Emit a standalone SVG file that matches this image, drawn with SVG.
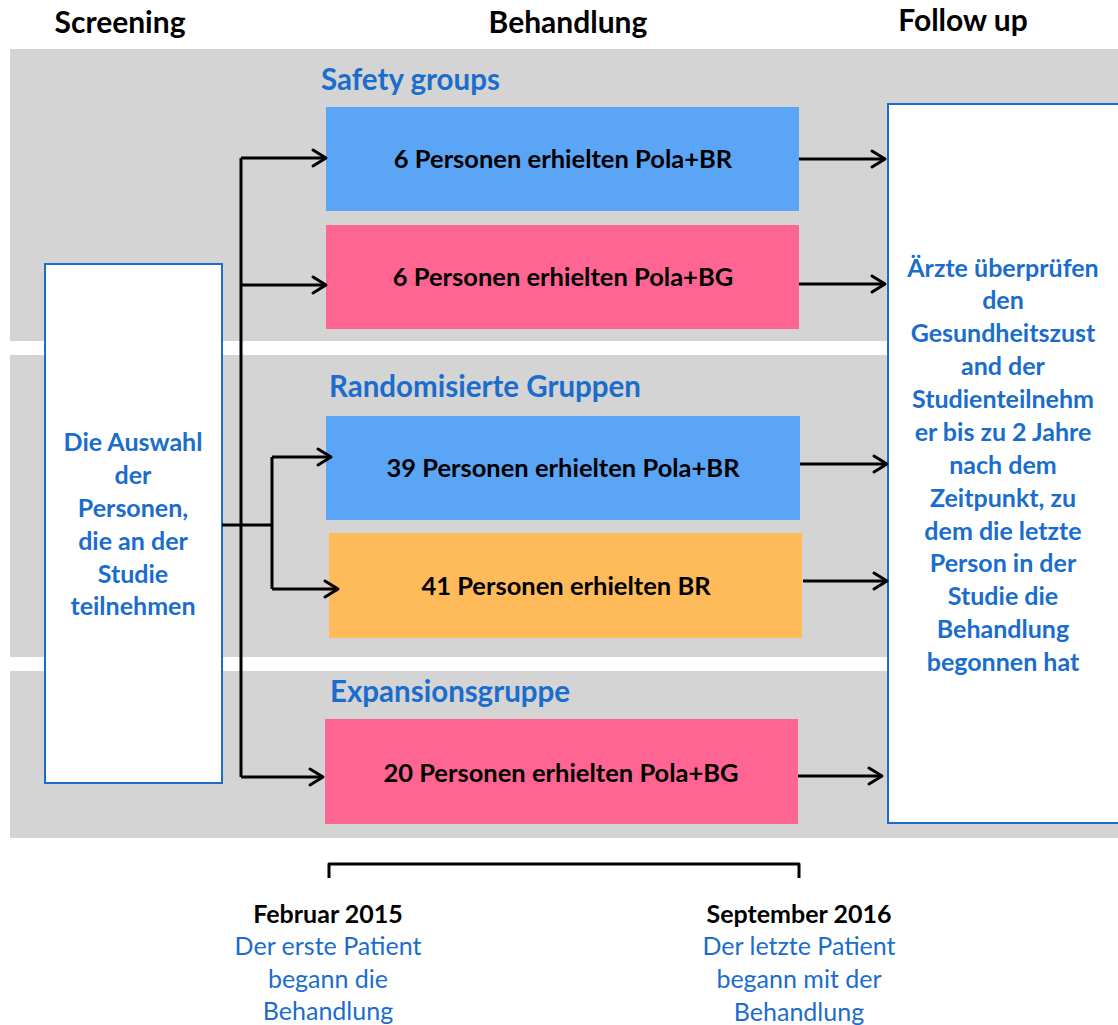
<svg xmlns="http://www.w3.org/2000/svg" width="1118" height="1025" viewBox="0 0 1118 1025">
<defs>
<marker id="arr" markerUnits="userSpaceOnUse" markerWidth="22" markerHeight="22" viewBox="0 0 22 22" refX="17" refY="11" orient="auto">
<path d="M4,3 L17,11 L4,19" fill="none" stroke="#000" stroke-width="3" stroke-linecap="round" stroke-linejoin="round"/>
</marker>
</defs>
<style>
.band{fill:#d4d4d4}
.hdr{font-family:Lato,"Liberation Sans",sans-serif;font-weight:bold;font-size:30px;fill:#000;text-anchor:middle}
.sec{font-family:Lato,"Liberation Sans",sans-serif;font-weight:bold;font-size:29.5px;fill:#1a6dcc}
.box{font-family:Lato,"Liberation Sans",sans-serif;font-weight:bold;font-size:25.5px;fill:#000;text-anchor:middle}
.side{font-family:Lato,"Liberation Sans",sans-serif;font-weight:bold;font-size:25px;fill:#1a6dcc;text-anchor:middle}
.wbox{fill:#fff;stroke:#1a6dcc;stroke-width:2}
.con{fill:none;stroke:#000;stroke-width:3}
.date{font-family:Lato,"Liberation Sans",sans-serif;font-weight:bold;font-size:25px;fill:#000;text-anchor:middle}
.note{font-family:Lato,"Liberation Sans",sans-serif;font-size:25px;fill:#1a6dcc;text-anchor:middle}
</style>
<rect width="1118" height="1025" fill="#fff"/>
<g id="bands">
<rect class="band" x="10" y="49" width="1108" height="292"/>
<rect class="band" x="10" y="355" width="1108" height="302"/>
<rect class="band" x="10" y="671" width="1108" height="167"/>
</g>
<g id="headers">
<text class="hdr" x="120" y="33">Screening</text>
<text class="hdr" x="568" y="33">Behandlung</text>
<text class="hdr" x="963" y="31">Follow up</text>
</g>
<g id="sections">
<text class="sec" x="321" y="90">Safety groups</text>
<text class="sec" x="329" y="397">Randomisierte Gruppen</text>
<text class="sec" x="330" y="702">Expansionsgruppe</text>
</g>
<g id="screening">
<rect class="wbox" x="45" y="264" width="177" height="519"/>
<text class="side" x="133" y="451">Die Auswahl</text>
<text class="side" x="133" y="484">der</text>
<text class="side" x="133" y="517">Personen,</text>
<text class="side" x="133" y="550">die an der</text>
<text class="side" x="133" y="583">Studie</text>
<text class="side" x="133" y="615">teilnehmen</text>
</g>
<g id="followup">
<rect class="wbox" x="888" y="104" width="240" height="719"/>
<text class="side" x="1003" y="277">Ärzte überprüfen</text>
<text class="side" x="1003" y="309">den</text>
<text class="side" x="1003" y="342">Gesundheitszust</text>
<text class="side" x="1003" y="375">and der</text>
<text class="side" x="1003" y="408">Studienteilnehm</text>
<text class="side" x="1003" y="441">er bis zu 2 Jahre</text>
<text class="side" x="1003" y="474">nach dem</text>
<text class="side" x="1003" y="507">Zeitpunkt, zu</text>
<text class="side" x="1003" y="540">dem die letzte</text>
<text class="side" x="1003" y="572">Person in der</text>
<text class="side" x="1003" y="605">Studie die</text>
<text class="side" x="1003" y="638">Behandlung</text>
<text class="side" x="1003" y="671">begonnen hat</text>
</g>
<g id="g1">
<rect x="326" y="107" width="473" height="104" fill="#5aa5f5"/>
<text class="box" x="563" y="168">6 Personen erhielten Pola+BR</text>
</g>
<g id="g2">
<rect x="326" y="225" width="473" height="104" fill="#ff6593"/>
<text class="box" x="563" y="286">6 Personen erhielten Pola+BG</text>
</g>
<g id="g3">
<rect x="326" y="416" width="474" height="104" fill="#5aa5f5"/>
<text class="box" x="563" y="477">39 Personen erhielten Pola+BR</text>
</g>
<g id="g4">
<rect x="329" y="533" width="473" height="105" fill="#ffba5a"/>
<text class="box" x="566" y="595">41 Personen erhielten BR</text>
</g>
<g id="g5">
<rect x="325" y="719" width="473" height="105" fill="#ff6593"/>
<text class="box" x="561" y="782">20 Personen erhielten Pola+BG</text>
</g>
<g id="connectors">
<path class="con" d="M241,777 L241,158 M241,158 L326,158" marker-end="url(#arr)"/>
<path class="con" d="M241,285 L326,285" marker-end="url(#arr)"/>
<path class="con" d="M241,777 L323,777" marker-end="url(#arr)"/>
<path class="con" d="M222,525 L272,525"/>
<path class="con" d="M272,457 L272,589"/>
<path class="con" d="M272,457 L331,457" marker-end="url(#arr)"/>
<path class="con" d="M272,589 L338,589" marker-end="url(#arr)"/>
<path class="con" d="M799,159 L885,159" marker-end="url(#arr)"/>
<path class="con" d="M799,284 L885,284" marker-end="url(#arr)"/>
<path class="con" d="M800,464 L887,464" marker-end="url(#arr)"/>
<path class="con" d="M803,581 L887,581" marker-end="url(#arr)"/>
<path class="con" d="M798,776 L882,776" marker-end="url(#arr)"/>
</g>
<g id="timeline">
<path class="con" d="M329,878 L329,864 L799,864 L799,878" stroke-linejoin="round"/>
<text class="date" x="328" y="923">Februar 2015</text>
<text class="note" x="328" y="955">Der erste Patient</text>
<text class="note" x="328" y="988">begann die</text>
<text class="note" x="328" y="1020">Behandlung</text>
<text class="date" x="799" y="923">September 2016</text>
<text class="note" x="799" y="955">Der letzte Patient</text>
<text class="note" x="799" y="988">begann mit der</text>
<text class="note" x="799" y="1021">Behandlung</text>
</g>
</svg>
